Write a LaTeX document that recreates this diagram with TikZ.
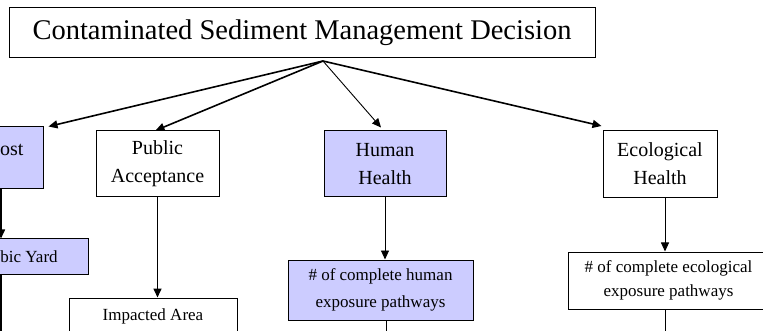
\documentclass[tikz,border=0pt]{standalone}
\usepackage{fontspec}
\setmainfont{Liberation Serif}
\usetikzlibrary{arrows.meta,calc}
\definecolor{lav}{RGB}{204,204,255}
\begin{document}
\begin{tikzpicture}[x=1pt,y=-1pt,
  box/.style={draw=black, line width=1pt, inner sep=0pt, align=center},
  mid/.style={box, font=\fontsize{20}{28}\selectfont, minimum width=123pt, minimum height=66pt},
  small/.style={box, font=\fontsize{17}{27}\selectfont},
  lavbox/.style={fill=lav},
  arr/.style={-{Triangle[length=9pt,width=8pt]}, line width=1.6pt},
  tarr/.style={-{Triangle[length=9pt,width=8pt]}, line width=0.9pt},
  ln/.style={line width=1.6pt},
  tln/.style={line width=0.9pt}]
\useasboundingbox (0,0) rectangle (763,331);
\clip (0,0) rectangle (763,331);
\fill[white] (0,0) rectangle (763,331);

\node[box, font=\fontsize{28.5}{34}\selectfont, minimum width=586pt, minimum height=50pt] (title) at (302,33) {Contaminated Sediment Management Decision};
\coordinate (apex) at (323,61);

\node[box, lavbox, minimum width=76pt, minimum height=62pt] (cost) at (5,158) {};
\node[font=\fontsize{20}{24}\selectfont, inner sep=0pt] (costtxt) at (5,149) {Cost};
\node[mid] (public) at (157.5,164) {Public\\Acceptance};
\node[mid, lavbox, minimum width=122pt] (human) at (385,164) {Human\\Health};
\node[mid, minimum width=114pt, minimum height=67pt] (eco) at (660,164) {Ecological\\Health};

\node[small, lavbox, minimum width=151pt, minimum height=35pt] (yard) at (12.5,256.5) {\$/Cubic Yard};
\node[small, minimum width=168pt, minimum height=36pt] (impact) at (153,316) {Impacted Area};
\node[small, lavbox, minimum width=185pt, minimum height=60pt] (hchild) at (380.5,290) {\# of complete human\\exposure pathways};
\node[small, font=\fontsize{17}{24}\selectfont, minimum width=201pt, minimum height=57pt] (echild) at (668.5,280.5) {\# of complete ecological\\exposure pathways};

\coordinate (ybot) at (1,335);
\coordinate (hbot) at (386,335);
\coordinate (ebot) at (665,335);

\draw[arr] (apex) -- ([xshift=5pt]cost.north east);
\draw[arr] (apex) -- ([xshift=-2pt]public.north);
\draw[tarr] (apex) -- ([xshift=-4pt,yshift=3pt]human.north);
\draw[arr] (apex) -- ([xshift=-1pt,yshift=4pt]eco.north west);

\draw[arr] ([xshift=-4pt]cost.south) -- ([xshift=-4pt]cost.south |- yard.north);
\draw[ln] (yard.south -| ybot) -- (ybot);
\draw[arr] (public.south) -- (public.south |- impact.north);
\draw[tarr] (human.south) -- (human.south |- hchild.north);
\draw[tln] (hchild.south -| hbot) -- (hbot);
\draw[tarr] ([xshift=5pt]eco.south) -- ([xshift=5pt]eco.south |- echild.north);
\draw[tln] (echild.south -| ebot) -- (ebot);
\end{tikzpicture}
\end{document}
